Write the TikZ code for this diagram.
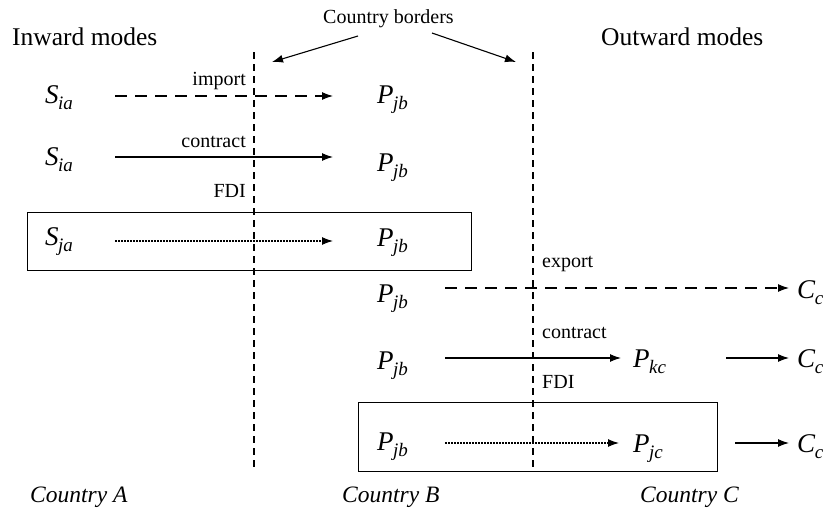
\documentclass[tikz,border=0pt]{standalone}
\usepackage{fontspec}
\setmainfont{Liberation Serif}
\usetikzlibrary{arrows.meta}
\newcommand\symb[2]{\textit{#1}\kern-0.5pt\raisebox{-6pt}{\fontsize{19}{19}\selectfont\textit{#2}}}
\tikzset{
  sym/.style={inner sep=0pt, anchor=base west, font=\fontsize{27}{27}\selectfont},
  lbl/.style={inner sep=0pt, font=\fontsize{20}{20}\selectfont},
  head/.style={inner sep=0pt, anchor=base west, font=\fontsize{25.5}{25.5}\selectfont},
  ctry/.style={inner sep=0pt, anchor=base west, font=\fontsize{23.5}{23.5}\selectfont\itshape},
  border/.style={line width=1.6pt, dash pattern=on 7pt off 5pt},
  arr/.style={line width=1.1pt, -{Latex[length=11pt,width=8pt]}},
  dsh/.style={arr, dash pattern=on 12pt off 8pt},
  dtt/.style={arr, dash pattern=on 1.5pt off 1.5pt},
  frame/.style={draw, line width=1pt},
}
\begin{document}
\begin{tikzpicture}[x=1pt,y=-1pt]
\useasboundingbox (0,0) rectangle (831,515);
% headings
\node[lbl, anchor=base west] (cb) at (323,23) {Country borders};
\node[head] (in) at (12,45) {Inward modes};
\node[head] (out) at (601,45) {Outward modes};
% borders
\coordinate (b1t) at (254,52); \coordinate (b1b) at (254,470);
\coordinate (b2t) at (533,52); \coordinate (b2b) at (533,470);
\draw[border] (b1t) -- (b1b);
\draw[border] (b2t) -- (b2b);
\coordinate (cbl) at (358,36); \coordinate (cbla) at (272,62);
\coordinate (cbr) at (432,33); \coordinate (cbra) at (516,62);
\draw[arr] (cbl) -- (cbla);
\draw[arr] (cbr) -- (cbra);
% boxes
\draw[frame] (27,212) rectangle (471,270) node[pos=0, inner sep=0pt] (box1) {};
\draw[frame] (358,402) rectangle (717,471) node[pos=0, inner sep=0pt] (box2) {};
% inward rows
\node[sym] (s1) at (45,103) {\symb{S}{ia}};
\node[sym] (p1) at (377,103) {\symb{P}{jb}};
\node[sym] (s2) at (45,165) {\symb{S}{ia}};
\node[sym] (p2) at (377,171) {\symb{P}{jb}};
\node[sym] (s3) at (45,245) {\symb{S}{ja}};
\node[sym] (p3) at (377,246) {\symb{P}{jb}};
\coordinate (a1s) at (115,96); \coordinate (a1e) at (333,96);
\coordinate (a2s) at (115,157); \coordinate (a2e) at (333,157);
\coordinate (a3s) at (115,241); \coordinate (a3e) at (333,241);
\draw[dsh] (a1s) -- (a1e);
\draw[arr] (a2s) -- (a2e);
\draw[dtt] (a3s) -- (a3e);
\node[lbl, anchor=base east] (imp) at (246,85) {import};
\node[lbl, anchor=base east] (con1) at (246,147) {contract};
\node[lbl, anchor=base east] (fdi1) at (246,197) {FDI};
% outward rows
\node[sym] (p4) at (377,302) {\symb{P}{jb}};
\node[sym] (c4) at (797,298) {\symb{C}{c}};
\node[sym] (p5) at (377,369) {\symb{P}{jb}};
\node[sym] (pk) at (633,367) {\symb{P}{kc}};
\node[sym] (c5) at (797,367) {\symb{C}{c}};
\node[sym] (p6) at (377,450) {\symb{P}{jb}};
\node[sym] (pj) at (633,452) {\symb{P}{jc}};
\node[sym] (c6) at (797,452) {\symb{C}{c}};
\coordinate (a4s) at (445,288); \coordinate (a4e) at (789,288);
\coordinate (a5s) at (445,358); \coordinate (a5e) at (621,358);
\coordinate (a6s) at (726,358); \coordinate (a6e) at (789,358);
\coordinate (a7s) at (445,443); \coordinate (a7e) at (619,443);
\coordinate (a8s) at (735,443); \coordinate (a8e) at (789,443);
\draw[dsh] (a4s) -- (a4e);
\draw[arr] (a5s) -- (a5e);
\draw[arr] (a6s) -- (a6e);
\draw[dtt] (a7s) -- (a7e);
\draw[arr] (a8s) -- (a8e);
\node[lbl, anchor=base west] (exp) at (542,267) {export};
\node[lbl, anchor=base west] (con2) at (542,338) {contract};
\node[lbl, anchor=base west] (fdi2) at (542,388) {FDI};
% countries
\node[ctry] (ca) at (30,502) {Country A};
\node[ctry] (cb2) at (342,502) {Country B};
\node[ctry] (cc) at (640,502) {Country C};
\end{tikzpicture}
\end{document}
